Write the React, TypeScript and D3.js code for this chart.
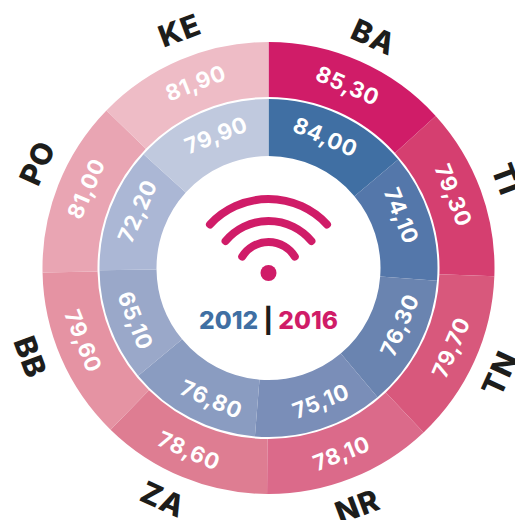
import React from "react";
import * as d3 from "d3";

const regions = ["BA", "TI", "TN", "NR", "ZA", "BB", "PO", "KE"];
const values2016 = [85.3, 79.3, 79.7, 78.1, 78.6, 79.6, 81.0, 81.9];
const values2012 = [84.0, 74.1, 76.3, 75.1, 76.8, 65.1, 72.2, 79.9];
const colors2016 = ["#d01c68", "#d53f70", "#d8587c", "#db6a8a", "#de7d92", "#e593a3", "#e9a5b3", "#eebcc6"];
const colors2012 = ["#406fa3", "#5477aa", "#6a84b0", "#7a8eb8", "#8a9cc1", "#9aa8c9", "#abb7d5", "#c0c9de"];
const yearLeft = "2012";
const yearRight = "2016";

const FONT = "Inter, 'Open Sans', sans-serif";
const cx = 268.5;
const cy = 268;
const outerRing = { inner: 171, outer: 226, label: 199 };
const innerRing = { inner: 112, outer: 169, label: 143 };
const nameRadius = 254;
const wifi = [
  { r: 80, half: 47, cy: 279 },
  { r: 56, half: 50, cy: 277 },
  { r: 31, half: 58, cy: 273 },
];

const fmt = (v: number) => v.toFixed(2).replace(".", ",");
const deg2rad = Math.PI / 180;
const nameAngle = d3.scaleBand<string>().domain(regions).range([2 * deg2rad, 362 * deg2rad]);
const valueAngle = d3.scaleBand<string>().domain(regions).range([1 * deg2rad, 361 * deg2rad]);

function place(angle: number, r: number) {
  const deg = angle / deg2rad;
  const x = cx + r * Math.sin(angle);
  const y = cy - r * Math.cos(angle);
  const rot = deg > 90 && deg < 270 ? deg - 180 : deg;
  return `translate(${x},${y}) rotate(${rot})`;
}

function Ring({ values, colors, ring }: { values: number[]; colors: string[]; ring: { inner: number; outer: number; label: number } }) {
  const slices = d3.pie<number>().sort(null)(values);
  const arc = d3.arc<d3.PieArcDatum<number>>().innerRadius(ring.inner).outerRadius(ring.outer);
  return (
    <g>
      <g transform={`translate(${cx},${cy})`}>
        {slices.map((s, i) => (
          <path key={i} d={arc(s) as string} fill={colors[i]} />
        ))}
      </g>
      {slices.map((s, i) => (
        <text
          key={i}
          transform={place((valueAngle(regions[i]) as number) + valueAngle.bandwidth() / 2, ring.label)}
          textAnchor="middle"
          dominantBaseline="central"
          fontFamily={FONT}
          fontWeight={700}
          fontSize={22}
          letterSpacing={0.6}
          fill="#fff"
        >
          {fmt(s.data)}
        </text>
      ))}
    </g>
  );
}

export default function App() {
  return (
    <svg
      width={515}
      height={520}
      style={{ position: "absolute", left: 0, top: 0, background: "#fff" }}
    >
      <Ring values={values2016} colors={colors2016} ring={outerRing} />
      <Ring values={values2012} colors={colors2012} ring={innerRing} />
      {regions.map((name) => (
        <text
          key={name}
          transform={place((nameAngle(name) as number) + nameAngle.bandwidth() / 2, nameRadius)}
          textAnchor="middle"
          dominantBaseline="central"
          fontFamily={FONT}
          fontWeight={800}
          fontSize={30}
          letterSpacing={1}
          fill="#1d1d1b"
        >
          {name}
        </text>
      ))}
      {wifi.map((w, i) => {
        const a = w.half * deg2rad;
        const p = d3.path();
        p.arc(cx, w.cy, w.r, -Math.PI / 2 - a, -Math.PI / 2 + a);
        return <path key={i} d={p.toString()} fill="none" stroke="#d01c68" strokeWidth={8} strokeLinecap="round" />;
      })}
      <circle cx={cx} cy={273} r={8} fill="#d01c68" />
      <text x={cx} y={329} textAnchor="middle" fontFamily={FONT} fontWeight={800} fontSize={24.5}>
        <tspan fill="#406fa3">{yearLeft}</tspan>
        <tspan fill="#1d1d1b"> | </tspan>
        <tspan fill="#d01c68">{yearRight}</tspan>
      </text>
    </svg>
  );
}
